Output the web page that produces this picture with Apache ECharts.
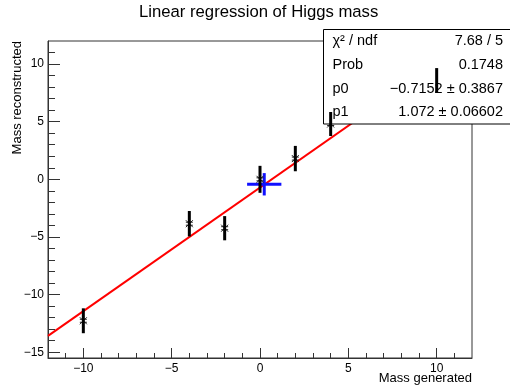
<!DOCTYPE html>
<html>
<head>
<meta charset="utf-8">
<script src="https://cdn.jsdelivr.net/npm/echarts@6/dist/echarts.min.js"></script>
<style>html,body{margin:0;padding:0;background:#fff;}#c{width:510px;height:388px;}</style>
</head>
<body>
<div id="c"></div>
<script>
// ---- data ----
const pointX = [-10, -4, -2, 0, 2, 4, 10];
const pointY = [-12.27, -3.85, -4.24, 0.0, 1.8, 4.8, 8.57];
const pointErr = [1.08, 1.1, 1.05, 1.17, 1.1, 1.04, 1.08];
const fitX = [-12, 12];
const fitY = [-13.58, 12.15];
const crossX = [0.24];
const crossY = [-0.43];
const crossErrX = [0.97];
const crossErrY = [0.97];
const majorTicksX = [-10, -5, 0, 5, 10];
const minorTicksX = [-11,-10,-9,-8,-7,-6,-5,-4,-3,-2,-1,0,1,2,3,4,5,6,7,8,9,10,11];
const majorTicksY = [-15, -10, -5, 0, 5, 10];
const minorTicksY = [-15,-14,-13,-12,-11,-10,-9,-8,-7,-6,-5,-4,-3,-2,-1,0,1,2,3,4,5,6,7,8,9,10,11];
const statsLabels = ['χ² / ndf', 'Prob', 'p0', 'p1'];
const statsValues = ['7.68 / 5', '0.1748', '−0.7152 ± 0.3867', '1.072 ± 0.06602'];
const titleText = 'Linear regression of Higgs mass';
const xTitle = 'Mass generated';
const yTitle = 'Mass reconstructed';

const FONT = '"Liberation Sans", Arial, Helvetica, sans-serif';
const fmt = v => String(v).replace('-', '\u2212');

const pts = pointX.map((x, i) => [x, pointY[i], pointErr[i]]);
const fitData = fitX.map((x, i) => [x, fitY[i]]);
const crossData = crossX.map((x, i) => [x, crossY[i], crossErrX[i], crossErrY[i]]);

const chart = echarts.init(document.getElementById('c'), null, {renderer: 'canvas'});

const statsGraphics = [{
  type: 'rect', z: 10,
  shape: {x: 323.5, y: 29.5, width: 190, height: 94.5},
  style: {fill: '#fff', stroke: '#000', lineWidth: 1}
}];
statsLabels.forEach((t, i) => {
  const cy = 29.5 + 23.6 * (i + 0.5);
  statsGraphics.push({type: 'text', z: 11, x: 332.5, y: cy,
    style: {text: t, fill: '#000', font: '14.5px ' + FONT, align: 'left', verticalAlign: 'middle'}});
  statsGraphics.push({type: 'text', z: 11, x: 503, y: cy,
    style: {text: statsValues[i], fill: '#000', font: '14.5px ' + FONT, align: 'right', verticalAlign: 'middle'}});
});

const axisCommon = {
  type: 'value', splitLine: {show: false}, nameMoveOverlap: false
};

chart.setOption({
  animation: false,
  backgroundColor: '#fff',
  title: {
    text: titleText, left: 139, top: 4, padding: 0,
    textStyle: {fontSize: 16.7, fontWeight: 'normal', color: '#000', fontFamily: FONT}
  },
  grid: {left: 48, top: 41, right: 38, bottom: 30, show: true, borderColor: '#333', borderWidth: 1, backgroundColor: 'transparent'},
  xAxis: [
    Object.assign({}, axisCommon, {
      min: -12, max: 12, position: 'bottom',
      name: xTitle, nameLocation: 'end', nameGap: 0,
      nameTextStyle: {fontSize: 13, color: '#000', fontFamily: FONT, align: 'right', verticalAlign: 'top', padding: [14, 0, 0, 0]},
      axisLine: {show: true, onZero: false, lineStyle: {color: '#333', width: 1}},
      axisTick: {show: true, inside: true, length: 10, customValues: majorTicksX, lineStyle: {color: '#333'}},
      axisLabel: {show: true, customValues: majorTicksX, formatter: fmt, color: '#000', fontSize: 12, fontFamily: FONT, margin: 5}
    }),
    Object.assign({}, axisCommon, {
      min: -12, max: 12, position: 'bottom',
      axisLine: {show: false, onZero: false},
      axisTick: {show: true, inside: true, length: 5, customValues: minorTicksX, lineStyle: {color: '#333'}},
      axisLabel: {show: false}
    })
  ],
  yAxis: [
    Object.assign({}, axisCommon, {
      min: -15.5, max: 12, position: 'left',
      name: yTitle, nameLocation: 'end', nameGap: 0, nameRotate: 90,
      nameTextStyle: {fontSize: 13, color: '#000', fontFamily: FONT, align: 'right', verticalAlign: 'bottom', padding: [0, 0, 24, 0]},
      axisLine: {show: true, onZero: false, lineStyle: {color: '#333', width: 1}},
      axisTick: {show: true, inside: true, length: 12, customValues: majorTicksY, lineStyle: {color: '#333'}},
      axisLabel: {show: true, customValues: majorTicksY, formatter: fmt, color: '#000', fontSize: 12, fontFamily: FONT, margin: 4}
    }),
    Object.assign({}, axisCommon, {
      min: -15.5, max: 12, position: 'left',
      axisLine: {show: false, onZero: false},
      axisTick: {show: true, inside: true, length: 7, customValues: minorTicksY, lineStyle: {color: '#333'}},
      axisLabel: {show: false}
    })
  ],
  graphic: statsGraphics,
  series: [
    {
      name: 'fit', type: 'line', data: fitData, showSymbol: false, z: 2,
      lineStyle: {color: '#ff0000', width: 2}, clip: true, silent: true
    },
    {
      name: 'cross', type: 'custom', data: crossData, z: 3, silent: true,
      renderItem: function (params, api) {
        const x = api.value(0), y = api.value(1), ex = api.value(2), ey = api.value(3);
        const l = api.coord([x - ex, y]), r = api.coord([x + ex, y]);
        const t = api.coord([x, y + ey]), b = api.coord([x, y - ey]);
        return {type: 'group', children: [
          {type: 'line', shape: {x1: l[0], y1: l[1], x2: r[0], y2: r[1]}, style: {stroke: '#1010ff', lineWidth: 3}},
          {type: 'line', shape: {x1: t[0], y1: t[1], x2: b[0], y2: b[1]}, style: {stroke: '#1010ff', lineWidth: 3}}
        ]};
      }
    },
    {
      name: 'markers', type: 'custom', data: pts, z: 5, silent: true,
      renderItem: function (params, api) {
        const p = api.coord([api.value(0), api.value(1)]);
        const s = 3.5;
        const st = {stroke: '#222', lineWidth: 1};
        return {type: 'group', children: [
          {type: 'line', shape: {x1: p[0] - s, y1: p[1] - 1.5, x2: p[0] + s, y2: p[1] - 1.5}, style: st},
          {type: 'line', shape: {x1: p[0] - s, y1: p[1] + 1.5, x2: p[0] + s, y2: p[1] + 1.5}, style: st},
          {type: 'line', shape: {x1: p[0] - s, y1: p[1] - s, x2: p[0] + s, y2: p[1] + s}, style: st},
          {type: 'line', shape: {x1: p[0] - s, y1: p[1] + s, x2: p[0] + s, y2: p[1] - s}, style: st}
        ]};
      }
    },
    {
      name: 'errors', type: 'custom', data: pts, z: 20, silent: true,
      renderItem: function (params, api) {
        const x = api.value(0), y = api.value(1), e = api.value(2);
        const t = api.coord([x, y + e]), b = api.coord([x, y - e]);
        return {type: 'line', shape: {x1: t[0], y1: t[1], x2: b[0], y2: b[1]}, style: {stroke: '#000', lineWidth: 3}};
      }
    }
  ]
});
</script>
</body>
</html>
